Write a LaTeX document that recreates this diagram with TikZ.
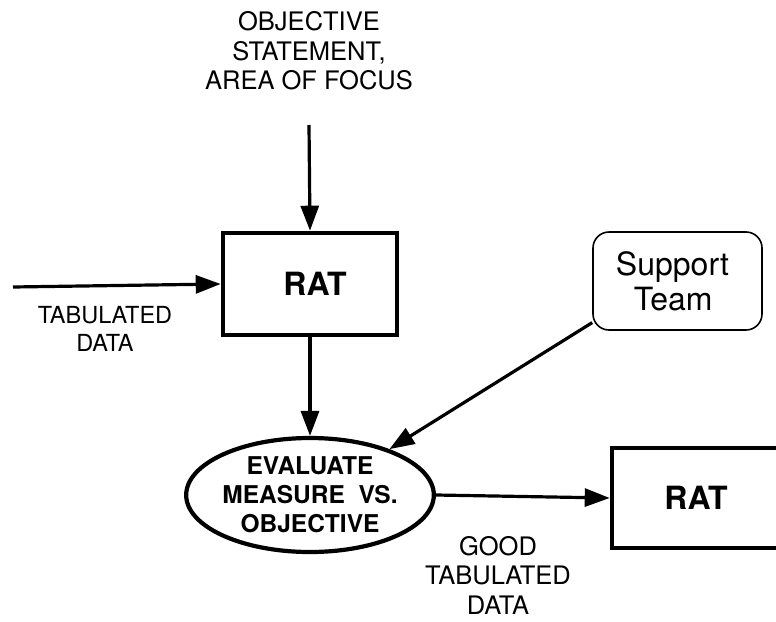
\documentclass[tikz,border=0pt]{standalone}
\usepackage{fontspec}
\setmainfont{TeX Gyre Heros}
\usetikzlibrary{arrows.meta,shapes.geometric}
\begin{document}
\begin{tikzpicture}[x=1pt,y=-1pt,
  flow/.style={line width=3.2pt,-{Triangle[length=25pt,width=18pt]}},
  procbox/.style={draw,line width=4.6pt,rectangle,inner sep=0pt,
    font=\fontsize{32}{36}\selectfont\bfseries},
  evalnode/.style={draw,line width=4.2pt,ellipse,inner sep=0pt,align=center,
    font=\fontsize{24.5}{29}\selectfont\bfseries},
  label/.style={align=center,inner sep=0pt,font=\fontsize{25.5}{29.5}\selectfont},
  teambox/.style={draw,line width=1.6pt,rounded corners=16pt,align=left,inner sep=0pt,
    font=\fontsize{32}{35}\selectfont}]
\useasboundingbox (0,0) rectangle (776,621);
\clip (0,0) rectangle (776,621);
\fill[white] (0,0) rectangle (776,621);

% inputs and outputs
\node[label] (objective) at (309,51) {OBJECTIVE\\STATEMENT,\\AREA OF FOCUS};
\node[label,font=\fontsize{23.5}{28}\selectfont] (tabin) at (105,329) {TABULATED\\DATA};
\node[label] (tabout) at (498,575) {GOOD\\TABULATED\\DATA};

% processes
\node[procbox,minimum width=174pt,minimum height=102pt] (rat1) at (310,284) {\hspace*{10pt}RAT};
\node[evalnode,minimum width=240pt,minimum height=114pt] (eval) at (310,495)
  {EVALUATE\\MEASURE\ \ VS.\\OBJECTIVE};
\node[procbox,minimum width=178pt,minimum height=100pt] (rat2) at (701,498) {RAT\hspace*{10pt}};
\node[teambox,minimum width=169pt,minimum height=98pt] (team) at (677.5,281)
  {\hspace*{-10pt}Support\\\hspace*{-10pt}\ \ Team};

% free ends of the incoming connectors
\coordinate (topin) at (309,125);
\coordinate (leftin) at (13,287);

% connectors
\draw[flow] (topin) -- (rat1.north);
\draw[flow] (leftin) -- (rat1.west);
\draw[flow] (rat1.south) -- (eval.north);
\draw[flow] (team.206) -- (eval.30);
\draw[flow] (eval.east) -- (rat2.west);
\end{tikzpicture}
\end{document}
